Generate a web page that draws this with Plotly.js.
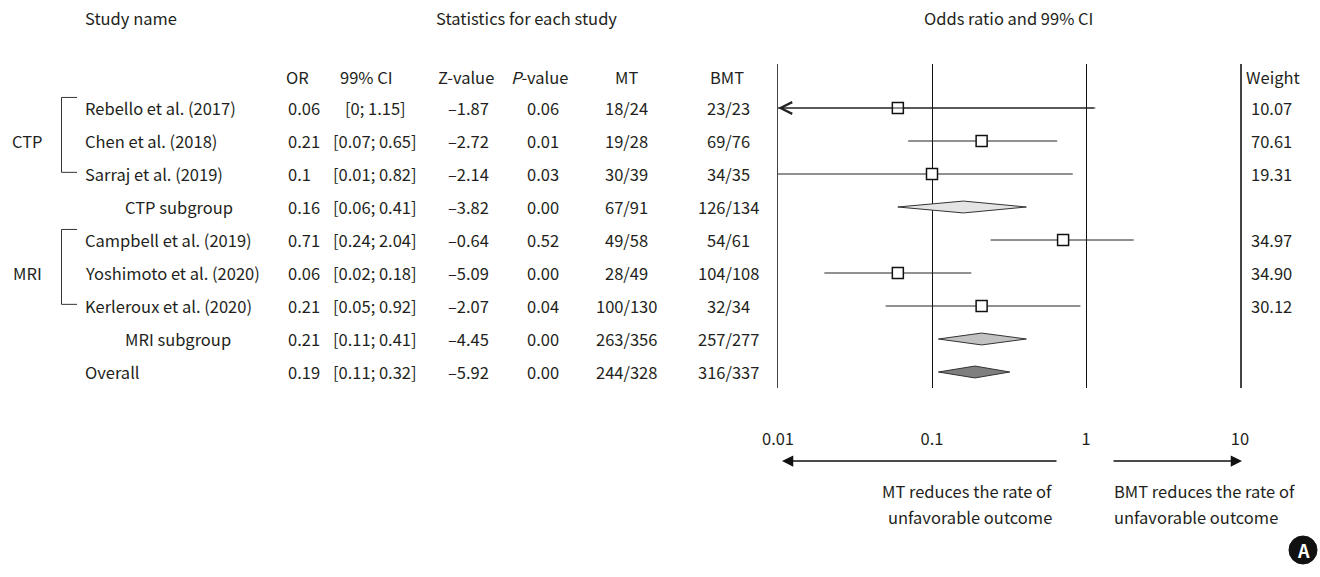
<!DOCTYPE html>
<html>
<head>
<meta charset="utf-8">
<script src="https://cdn.plot.ly/plotly-3.0.1.min.js"></script>
<style>html,body{margin:0;padding:0;background:#fff;}#chart{width:1320px;height:577px;}</style>
</head>
<body>
<div id="chart"></div>
<script>
// ---------------- data ----------------
const studies = ['Rebello et al. (2017)', 'Chen et al. (2018)', 'Sarraj et al. (2019)', 'CTP subgroup',
  'Campbell et al. (2019)', 'Yoshimoto et al. (2020)', 'Kerleroux et al. (2020)', 'MRI subgroup', 'Overall'];
const rowKind = ['study', 'study', 'study', 'subgroup', 'study', 'study', 'study', 'subgroup', 'overall'];
const oddsRatio = [0.06, 0.21, 0.1, 0.16, 0.71, 0.06, 0.21, 0.21, 0.19];
const ciLow = [0, 0.07, 0.01, 0.06, 0.24, 0.02, 0.05, 0.11, 0.11];
const ciHigh = [1.15, 0.65, 0.82, 0.41, 2.04, 0.18, 0.92, 0.41, 0.32];
const zValue = [-1.87, -2.72, -2.14, -3.82, -0.64, -5.09, -2.07, -4.45, -5.92];
const pValue = [0.06, 0.01, 0.03, 0.00, 0.52, 0.00, 0.04, 0.00, 0.00];
const mtEvents = ['18/24', '19/28', '30/39', '67/91', '49/58', '28/49', '100/130', '263/356', '244/328'];
const bmtEvents = ['23/23', '69/76', '34/35', '126/134', '54/61', '104/108', '32/34', '257/277', '316/337'];
const weight = [10.07, 70.61, 19.31, null, 34.97, 34.90, 30.12, null, null];
const groups = [{name: 'CTP', first: 0, last: 2}, {name: 'MRI', first: 4, last: 6}];
const tickVals = [0.01, 0.1, 1, 10];
const tickText = ['0.01', '0.1', '1', '10'];

// ---------------- layout helpers ----------------
const W = 1320, H = 577;
const px = v => v / W;
const py = v => 1 - v / H;
const ROW0 = 108, ROWH = 33, TOP = 64, BOT = 388;
const yRange = [(BOT - ROW0) / ROWH, (TOP - ROW0) / ROWH];
const xRange = [-2, 1];
const FONT = '"Noto Sans CJK KR", "Noto Sans", sans-serif';
const FS = 16.5;
const TXT = '#231f20';
const diamondFill = {'CTP subgroup': '#e4e4e4', 'MRI subgroup': '#c2c2c2', 'Overall': '#7f7f7f'};
const DH = 0.18; // diamond half-height in row units

const traces = [];
// CI lines for individual studies
const ciX = [], ciY = [];
studies.forEach((s, i) => {
  if (rowKind[i] !== 'study') return;
  const lo = ciLow[i] > 0 ? ciLow[i] : Math.pow(10, xRange[0]);
  ciX.push(lo, ciHigh[i], null);
  ciY.push(i, i, null);
});
traces.push({x: ciX, y: ciY, mode: 'lines', type: 'scatter', line: {color: '#222', width: 1}, hoverinfo: 'skip'});
// squares
const sqX = [], sqY = [];
studies.forEach((s, i) => { if (rowKind[i] === 'study') { sqX.push(oddsRatio[i]); sqY.push(i); } });
traces.push({x: sqX, y: sqY, mode: 'markers', type: 'scatter',
  marker: {symbol: 'square', size: 11, color: '#fff', line: {color: '#111', width: 1.5}}, hoverinfo: 'skip'});
// diamonds
studies.forEach((s, i) => {
  if (rowKind[i] === 'study') return;
  traces.push({
    x: [ciLow[i], oddsRatio[i], ciHigh[i], oddsRatio[i], ciLow[i]],
    y: [i, i - DH, i, i + DH, i],
    mode: 'lines', type: 'scatter', fill: 'toself', fillcolor: diamondFill[s],
    line: {color: '#333', width: 1}, hoverinfo: 'skip'
  });
});

const ann = [];
const font = (size, color) => ({family: FONT, size: size || FS, color: color || TXT});
function txt(text, x, y, anchor, yref, size) {
  ann.push({text: text, x: px(x), y: y, xref: 'paper', yref: yref || 'y', xanchor: anchor || 'left',
    yanchor: 'middle', showarrow: false, font: font(size)});
}
// top headers
txt('Study name', 83, py(18), 'left', 'paper');
txt('Statistics for each study', 526, py(18), 'center', 'paper');
txt('Odds ratio and 99% CI', 1008, py(18), 'center', 'paper');
// column headers
const hy = py(77);
txt('OR', 297, hy, 'center', 'paper');
txt('99% CI', 366, hy, 'center', 'paper');
txt('Z-value', 466, hy, 'center', 'paper');
txt('<i>P</i>-value', 539, hy, 'center', 'paper');
txt('MT', 626, hy, 'center', 'paper');
txt('BMT', 727, hy, 'center', 'paper');
txt('Weight', 1273, hy, 'center', 'paper');
// rows
const fmtZ = v => (v < 0 ? '\u2013' : '') + Math.abs(v).toFixed(2);
studies.forEach((s, i) => {
  txt(s, rowKind[i] === 'subgroup' ? 123 : 83, i, 'left');
  txt(String(oddsRatio[i]), 286, i, 'left');
  txt('[' + ciLow[i] + '; ' + ciHigh[i] + ']', 375, i, 'center');
  txt(fmtZ(zValue[i]), 468, i, 'center');
  txt(pValue[i].toFixed(2), 543, i, 'center');
  txt(mtEvents[i], 626, i, 'center');
  txt(bmtEvents[i], 728, i, 'center');
  if (weight[i] !== null) txt(weight[i].toFixed(2), 1271, i, 'center');
});
// group labels
groups.forEach(g => txt(g.name, 27, (g.first + g.last) / 2, 'center'));
// arrow for truncated CI (lower bound 0)
studies.forEach((s, i) => {
  if (rowKind[i] === 'study' && ciLow[i] <= 0) {
    ann.push({text: '', x: xRange[0], y: i, xref: 'x', yref: 'y', ax: Math.log10(ciHigh[i]), ay: i,
      axref: 'x', ayref: 'y', showarrow: true, arrowhead: 5, arrowsize: 2.3, arrowwidth: 1, arrowcolor: '#222'});
  }
});
// direction arrows
ann.push({text: '', x: px(782), y: py(461), xref: 'paper', yref: 'paper', ax: 1058 - 782, ay: 0,
  showarrow: true, arrowhead: 2, arrowsize: 1.5, arrowwidth: 1.5, arrowcolor: '#111'});
ann.push({text: '', x: px(1242), y: py(461), xref: 'paper', yref: 'paper', ax: 1112 - 1242, ay: 0,
  showarrow: true, arrowhead: 2, arrowsize: 1.5, arrowwidth: 1.5, arrowcolor: '#111'});
txt('MT reduces the rate of', 1054, py(491), 'right', 'paper');
txt('unfavorable outcome', 1054, py(517), 'right', 'paper');
txt('BMT reduces the rate of', 1112, py(491), 'left', 'paper');
txt('unfavorable outcome', 1112, py(517), 'left', 'paper');
// panel label
ann.push({text: '<b>A</b>', x: px(1303), y: py(550), xref: 'paper', yref: 'paper', xanchor: 'center', yanchor: 'middle',
  showarrow: false, font: {family: FONT, size: 18, color: '#fff'}});

const shapes = [];
groups.forEach(g => {
  const top = g.first - 0.32, bot = g.last - 0.05;
  shapes.push({type: 'path', xref: 'paper', yref: 'y',
    path: `M ${px(77)},${top} L ${px(61.5)},${top} L ${px(61.5)},${bot} L ${px(77)},${bot}`,
    line: {color: '#333', width: 1}});
});
shapes.push({type: 'circle', xref: 'paper', yref: 'paper', x0: px(1289), x1: px(1317), y0: py(564), y1: py(536),
  fillcolor: '#111', line: {color: '#111', width: 1}});

const layout = {
  width: W, height: H,
  margin: {l: 0, r: 0, t: 0, b: 0},
  paper_bgcolor: '#fff', plot_bgcolor: 'rgba(0,0,0,0)',
  showlegend: false, hovermode: false,
  font: font(FS),
  xaxis: {type: 'log', range: xRange, domain: [px(778), px(1240)], tickvals: tickVals, ticktext: tickText,
    showgrid: true, gridcolor: '#111', gridwidth: 1, zeroline: false, showline: false, ticks: '',
    ticklabelstandoff: 39, tickfont: font(FS), fixedrange: true},
  yaxis: {range: yRange, domain: [py(BOT), py(TOP)], showticklabels: false, showgrid: false, zeroline: false,
    showline: true, mirror: true, linecolor: '#444', linewidth: 1.5, ticks: '', fixedrange: true},
  annotations: ann,
  shapes: shapes
};
Plotly.newPlot('chart', traces, layout, {staticPlot: true, displayModeBar: false});
</script>
</body>
</html>
